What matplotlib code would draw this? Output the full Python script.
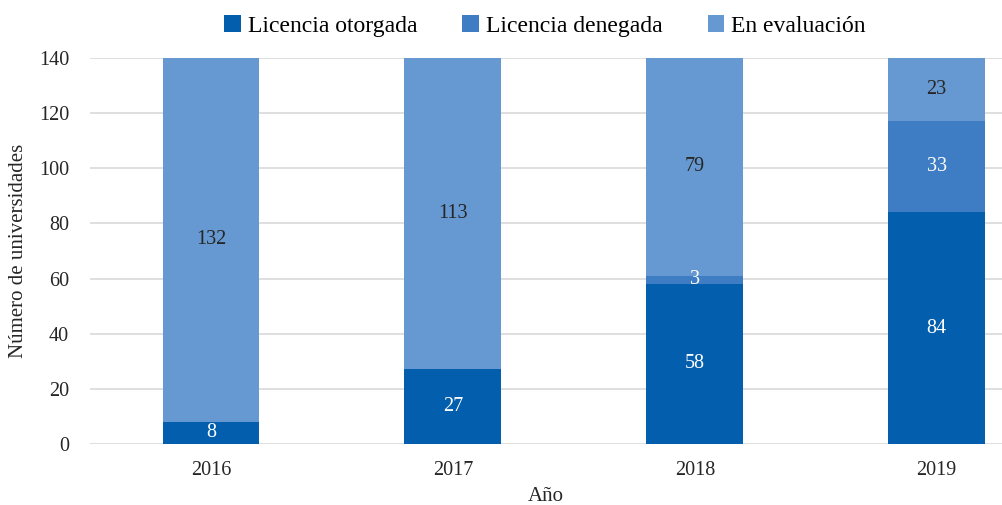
import matplotlib.pyplot as plt
import numpy as np

anios = ["2016", "2017", "2018", "2019"]
otorgada = [8, 27, 58, 84]
denegada = [0, 0, 3, 33]
evaluacion = [132, 113, 79, 23]

plt.rcParams['font.family'] = ['Liberation Serif', 'DejaVu Serif']

fig = plt.figure(figsize=(10.02, 5.05), dpi=100)
ax = fig.add_axes([0.0898, 0.121, 0.9102, 0.764])

x = np.arange(len(anios))
w = 0.4
series = [
	(otorgada, "Licencia otorgada", "#035EAD", "white"),
	(denegada, "Licencia denegada", "#3E7DC3", "white"),
	(evaluacion, "En evaluación", "#6699D1", "#262626"),
]
bottom = np.zeros(len(anios))
for vals, name, col, tcol in series:
	vals = np.array(vals, dtype=float)
	ax.bar(x, vals, w, bottom=bottom, color=col, label=name, zorder=2)
	for xi, b, v in zip(x, bottom, vals):
		if v > 0:
			ax.text(xi, b + v / 2, "{:g}".format(v), ha="center", va="center",
				color=tcol, fontsize=14.5, zorder=3)
	bottom += vals

ax.set_xlim(-0.5, 3.27)
ax.set_ylim(0, 140)
ax.set_yticks(range(0, 141, 20))
ax.set_xticks(x)
ax.set_xticklabels(anios)
ax.yaxis.grid(True, color="#D9D9D9", linewidth=1.2, zorder=0)
ax.set_axisbelow(True)
for s in ax.spines.values():
	s.set_visible(False)
ax.tick_params(axis="both", length=0, labelsize=14.5, colors="#262626")
ax.tick_params(axis="x", pad=12)
ax.tick_params(axis="y", pad=15)
ax.set_xlabel("Año", fontsize=15, color="#262626", labelpad=5)
ax.set_ylabel("Número de universidades", fontsize=15, color="#262626", labelpad=8)

fig.legend(loc="upper center", bbox_to_anchor=(0.544, 1.012), ncol=3, frameon=False,
	fontsize=17, handlelength=0.7, handleheight=0.7, handletextpad=0.3, columnspacing=1.9)

fig.savefig("out.png", dpi=100)
